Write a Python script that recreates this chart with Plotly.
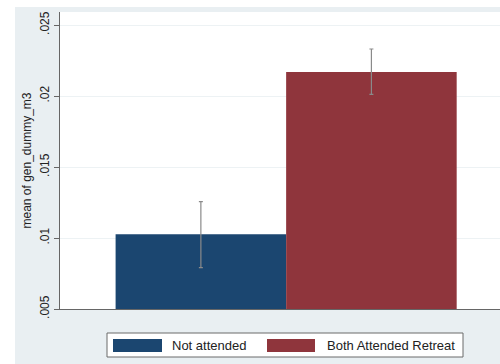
import plotly.graph_objects as go

groups = ["Not attended", "Both Attended Retreat"]
means = [0.01026, 0.02169]
err_hi = [0.01256, 0.02331]
err_lo = [0.00791, 0.02012]
colors = ["#1b4670", "#8f353c"]
yticks = [0.005, 0.01, 0.015, 0.02, 0.025]
yticklabels = [".005", ".01", ".015", ".02", ".025"]

W, H = 500, 364
L, R, T, B = 60, 0, 12, 55
pw, ph = W - L - R, H - T - B

def px(x):
    return (x - L) / pw

def py(y):
    return (H - B - y) / ph

fig = go.Figure()
for i, (g, m, hi, lo, c) in enumerate(zip(groups, means, err_hi, err_lo, colors)):
    fig.add_trace(go.Bar(
        x=[i], y=[m - 0.005], base=0.005, width=1.0, name=g,
        marker=dict(color=c, line=dict(width=0)),
        error_y=dict(type="data", symmetric=False, array=[hi - m], arrayminus=[m - lo],
                     color="#8a8a8a", thickness=1.2, width=2),
        showlegend=False,
    ))

shapes = [
    dict(type="rect", xref="paper", yref="paper", x0=px(15), x1=1.05, y0=-0.25, y1=py(7),
         fillcolor="#e9eff2", line=dict(width=0), layer="below"),
    dict(type="rect", xref="paper", yref="paper", x0=0, x1=1.05, y0=0, y1=1,
         fillcolor="white", line=dict(width=0), layer="below"),
    # legend box
    dict(type="rect", xref="paper", yref="paper", x0=px(107), x1=px(463), y0=py(357), y1=py(333),
         fillcolor="white", line=dict(color="#6a6a6a", width=1)),
    dict(type="rect", xref="paper", yref="paper", x0=px(113), x1=px(162), y0=py(352), y1=py(339),
         fillcolor=colors[0], line=dict(width=0)),
    dict(type="rect", xref="paper", yref="paper", x0=px(267), x1=px(315), y0=py(352), y1=py(339),
         fillcolor=colors[1], line=dict(width=0)),
]
annotations = [
    dict(text=groups[0], xref="paper", yref="paper", x=px(170), y=py(345.5), xanchor="left",
         yanchor="middle", showarrow=False, font=dict(size=13, color="#222")),
    dict(text=groups[1], xref="paper", yref="paper", x=px(325), y=py(345.5), xanchor="left",
         yanchor="middle", showarrow=False, font=dict(size=13, color="#222")),
]

fig.update_layout(
    width=W, height=H,
    margin=dict(l=L, r=R, t=T, b=B, pad=0),
    paper_bgcolor="white", plot_bgcolor="white",
    barmode="overlay",
    font=dict(family="Liberation Sans, Arial, sans-serif", size=12, color="#222"),
    shapes=shapes, annotations=annotations,
    xaxis=dict(range=[-0.826, 1.754], showticklabels=False, showgrid=False, zeroline=False,
               showline=True, linecolor="#666", linewidth=1, ticks="", fixedrange=True),
    yaxis=dict(range=[0.005, 0.025916], tickvals=yticks, ticktext=yticklabels, tickangle=-90,
               ticks="outside", ticklen=5, tickcolor="#666", showline=True, linecolor="#666",
               linewidth=1, showgrid=True, gridcolor="#edf2f4", gridwidth=1, zeroline=False,
               tickfont=dict(size=12, color="#222"),
               title=dict(text="mean of gen_dummy_m3", font=dict(size=12, color="#222"), standoff=4)),
)

fig.write_html("out.html")
